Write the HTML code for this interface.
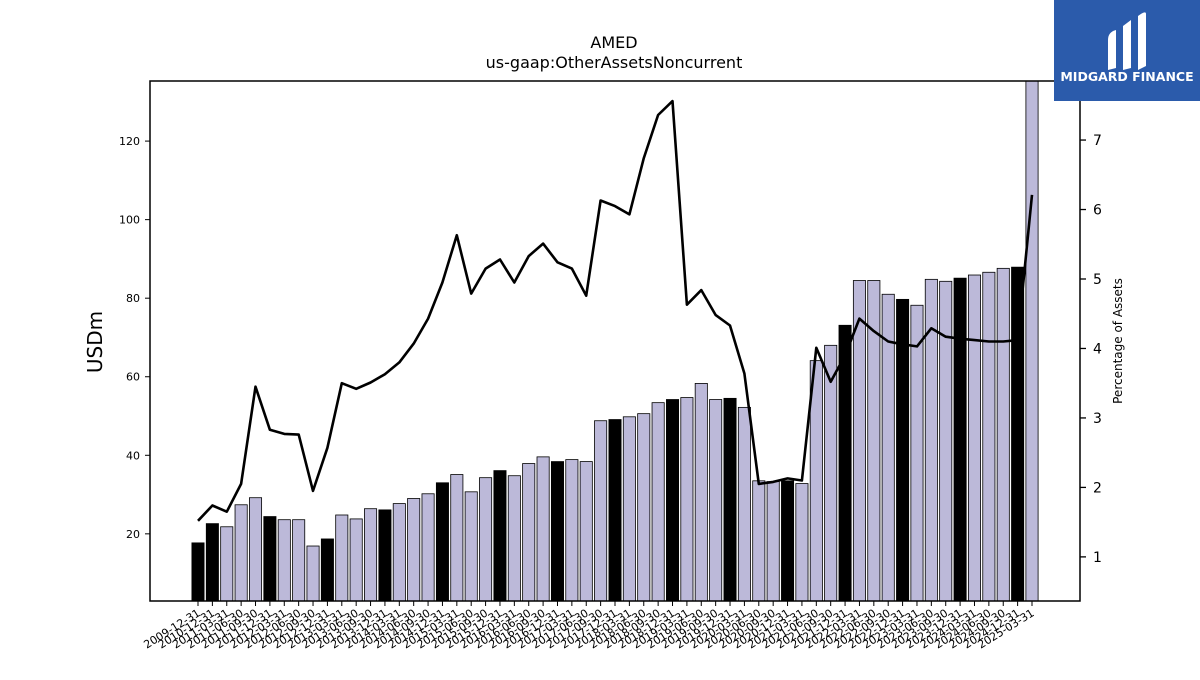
<!DOCTYPE html>
<html><head><meta charset="utf-8"><style>
body{margin:0;background:#fff;width:1200px;height:675px;overflow:hidden;font-family:"Liberation Sans","DejaVu Sans",sans-serif}
svg text{font-family:"DejaVu Sans","Liberation Sans",sans-serif}
</style></head><body>
<svg id="chart" width="1200" height="675" xmlns="http://www.w3.org/2000/svg">
<text x="614" y="48" text-anchor="middle" font-size="16">AMED</text>
<text x="614" y="68" text-anchor="middle" font-size="16">us-gaap:OtherAssetsNoncurrent</text>
<g id="bars"></g>
<g id="line"></g>
<rect x="150" y="81" width="930" height="520" fill="none" stroke="#000" stroke-width="1.5"/>
<g id="axes"></g>
<text transform="translate(102,342) rotate(-90)" text-anchor="middle" font-size="20">USDm</text>
<text transform="translate(1122,341) rotate(-90)" text-anchor="middle" font-size="12">Percentage of Assets</text>
<g>
<rect x="1054" y="0" width="146" height="101" fill="#2b5bab"/>
<path d="M1108 40 Q1108 32 1116 30 L1116 68 L1108 70 Z" fill="#fff"/>
<path d="M1123 26 L1131 20 L1131 68 L1123 70 Z" fill="#fff"/>
<path d="M1138 16 Q1146 10 1146 14 L1146 66 L1138 70 Z" fill="#fff"/>
<text x="1127" y="81" text-anchor="middle" font-size="12.5" font-weight="bold" fill="#fff">MIDGARD FINANCE</text>
</g>
</svg>
<script>
const categories=["2009-12-31","2010-12-31","2011-03-31","2011-06-30","2011-09-30","2011-12-31","2012-03-31","2012-06-30","2012-09-30","2012-12-31","2013-03-31","2013-06-30","2013-09-30","2013-12-31","2014-03-31","2014-06-30","2014-09-30","2014-12-31","2015-03-31","2015-06-30","2015-09-30","2015-12-31","2016-03-31","2016-06-30","2016-09-30","2016-12-31","2017-03-31","2017-06-30","2017-09-30","2017-12-31","2018-03-31","2018-06-30","2018-09-30","2018-12-31","2019-03-31","2019-06-30","2019-09-30","2019-12-31","2020-03-31","2020-06-30","2020-09-30","2020-12-31","2021-03-31","2021-06-30","2021-09-30","2021-12-31","2022-03-31","2022-06-30","2022-09-30","2022-12-31","2023-03-31","2023-06-30","2023-09-30","2023-12-31","2024-03-31","2024-06-30","2024-09-30","2024-12-31","2025-03-31"];
const usdValues=[17.7,22.6,21.8,27.4,29.2,24.4,23.6,23.6,16.9,18.7,24.8,23.8,26.4,26.1,27.7,29.0,30.2,33.0,35.1,30.7,34.3,36.1,34.8,37.9,39.6,38.4,38.9,38.4,48.8,49.1,49.8,50.6,53.4,54.2,54.7,58.3,54.2,54.5,52.2,33.5,33.3,33.5,32.8,64.1,68.0,73.1,84.5,84.5,81.0,79.7,78.2,84.8,84.3,85.1,85.9,86.6,87.6,87.9,136];
const pctValues=[1.52,1.74,1.65,2.05,3.45,2.83,2.77,2.76,1.95,2.57,3.50,3.42,3.51,3.63,3.80,4.07,4.43,4.95,5.63,4.79,5.15,5.28,4.95,5.33,5.51,5.24,5.15,4.76,6.13,6.05,5.93,6.74,7.36,7.56,4.63,4.84,4.48,4.33,3.64,2.05,2.08,2.13,2.10,4.01,3.52,3.90,4.43,4.25,4.10,4.06,4.03,4.29,4.17,4.14,4.12,4.10,4.10,4.12,6.21];
const leftTicks=[20,40,60,80,100,120];
const rightTicks=[1,2,3,4,5,6,7];
const NS="http://www.w3.org/2000/svg";
const plotL=150,plotR=1080,plotT=81,plotB=601;
const yL=[2.9,135.3],yR=[0.365,7.85];
function xPos(i){return 198+i*(1032-198)/(categories.length-1);}
function yLeft(v){return plotB-(v-yL[0])/(yL[1]-yL[0])*(plotB-plotT);}
function yRight(v){return plotB-(v-yR[0])/(yR[1]-yR[0])*(plotB-plotT);}
function mk(tag,attrs,parent){const e=document.createElementNS(NS,tag);for(const k in attrs)e.setAttribute(k,attrs[k]);parent.appendChild(e);return e;}
const bars=document.getElementById('bars'),line=document.getElementById('line'),axes=document.getElementById('axes');
const bw=12.2;
usdValues.forEach((v,i)=>{
  const top=Math.max(yLeft(v),plotT);
  const isQ4=categories[i].endsWith('12-31');
  const r=mk('rect',{x:xPos(i)-bw/2,y:top,width:bw,height:plotB-top,fill:isQ4?'#000':'#bcb9d9',stroke:'#000','stroke-width':0.8},bars);
  
  
});
const pts=pctValues.map((v,i)=>xPos(i).toFixed(1)+','+yRight(v).toFixed(1)).join(' ');
const pl=mk('polyline',{points:pts,fill:'none',stroke:'#000','stroke-width':2.6,'stroke-linejoin':'round'},line);


leftTicks.forEach(t=>{
  const y=yLeft(t);
  mk('line',{x1:plotL-5,x2:plotL,y1:y,y2:y,stroke:'#000'},axes);
  const tx=mk('text',{x:plotL-10,y:y+4,'text-anchor':'end','font-size':11},axes);
  tx.textContent=t;
  
  
});
rightTicks.forEach(t=>{
  const y=yRight(t);
  mk('line',{x1:plotR,x2:plotR+6,y1:y,y2:y,stroke:'#000','stroke-width':1.3},axes);
  const tx=mk('text',{x:plotR+13,y:y+5,'font-size':14},axes);
  tx.textContent=t;
  
  
});
categories.forEach((c,i)=>{
  const x=xPos(i);
  mk('line',{x1:x,x2:x,y1:plotB,y2:plotB+5,stroke:'#000'},axes);
  const tx=mk('text',{transform:'translate('+(x+3)+','+(plotB+14)+') rotate(-32)','text-anchor':'end','font-size':11},axes);
  tx.textContent=c;
  
  
});
</script>
</body></html>
